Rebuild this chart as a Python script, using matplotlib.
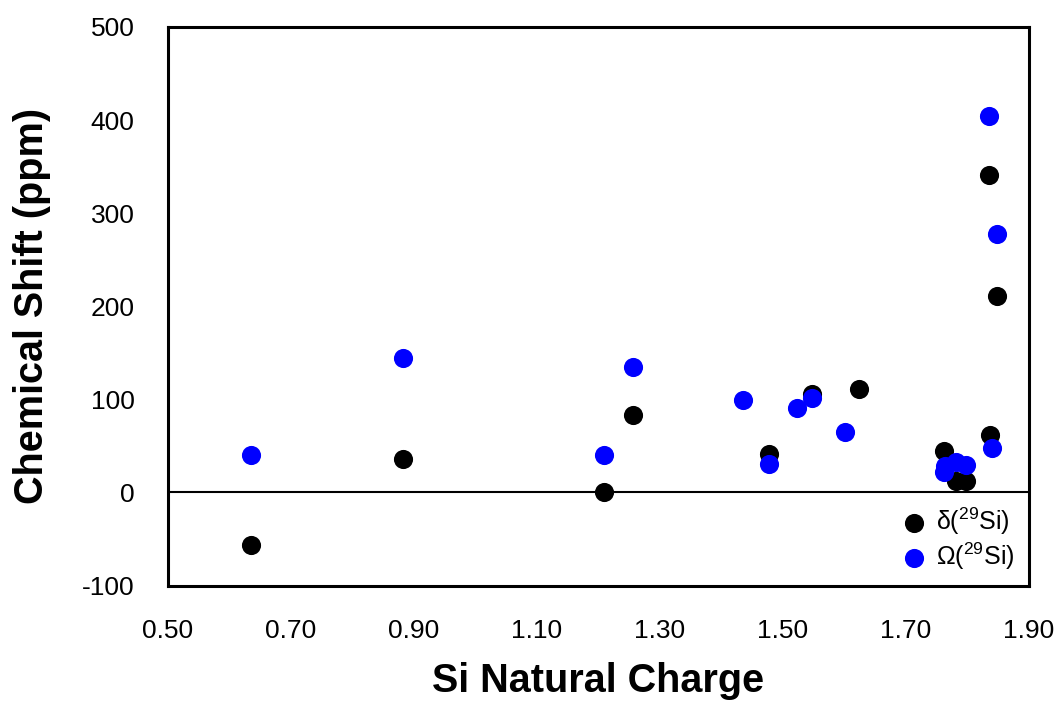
import matplotlib.pyplot as plt

plt.rcParams['font.family'] = ['Liberation Sans', 'DejaVu Sans']
plt.rcParams['axes.unicode_minus'] = False
plt.rcParams['mathtext.fontset'] = 'custom'
plt.rcParams['mathtext.rm'] = 'Liberation Sans'

# delta(29Si) values
delta_x = [0.635, 0.883, 1.210, 1.256, 1.477, 1.547, 1.625, 1.762, 1.782, 1.798, 1.838, 1.835, 1.848]
delta_y = [-56, 36, 0, 83, 41, 106, 111, 44, 12, 12, 62, 341, 211]

# Omega(29Si) values
omega_x = [0.635, 0.883, 1.210, 1.256, 1.435, 1.477, 1.524, 1.547, 1.601,
           1.762, 1.764, 1.782, 1.798, 1.840, 1.835, 1.848]
omega_y = [40, 144, 40, 135, 99, 31, 91, 101, 65, 22, 28, 33, 29, 48, 404, 278]

x_ticks = [0.50, 0.70, 0.90, 1.10, 1.30, 1.50, 1.70, 1.90]
y_ticks = [-100, 0, 100, 200, 300, 400, 500]

fig = plt.figure(figsize=(10.56, 7.08), dpi=100)
ax = fig.add_axes([0.159, 0.173, 0.815, 0.789])

ax.axhline(0, color='black', lw=1.5, zorder=1)
ax.scatter(delta_x, delta_y, s=190, color='black',
           label='δ($\\mathregular{^{29}}$Si)', zorder=2, linewidths=0)
ax.scatter(omega_x, omega_y, s=190, color='#0000FF',
           label='Ω($\\mathregular{^{29}}$Si)', zorder=3, linewidths=0)

ax.set_xlim(0.5, 1.9)
ax.set_ylim(-100, 500)
ax.set_xticks(x_ticks)
ax.set_xticklabels([f'{v:.2f}' for v in x_ticks])
ax.set_yticks(y_ticks)
ax.set_yticklabels([str(v) for v in y_ticks])
ax.tick_params(length=0, labelsize=19, pad=24)

for sp in ax.spines.values():
    sp.set_linewidth(2.2)
    sp.set_color('black')

ax.set_xlabel('Si Natural Charge', fontsize=28.5, fontweight='bold', labelpad=14)
ax.set_ylabel('Chemical Shift (ppm)', fontsize=28.5, fontweight='bold', labelpad=22)

leg = ax.legend(loc='lower right', frameon=False, fontsize=18, handletextpad=-0.1,
                labelspacing=0.15, borderaxespad=0.15, markerscale=1.0)

fig.savefig('out.png', dpi=100)
